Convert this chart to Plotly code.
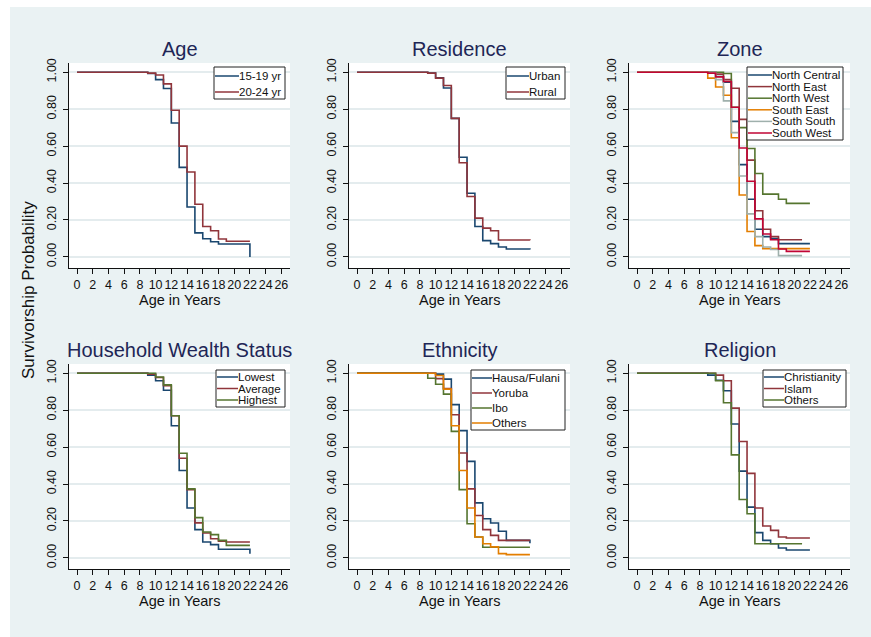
import plotly.graph_objects as go

W, H = 871, 637

# ---------------- data ----------------
AGES = [0, 9, 10, 11, 12, 13, 14, 15, 16, 17, 18, 19, 20, 21, 22]
X_TICKS = list(range(0, 27, 2))
Y_TICKS = [0.0, 0.2, 0.4, 0.6, 0.8, 1.0]

panel_titles = ["Age", "Residence", "Zone", "Household Wealth Status", "Ethnicity", "Religion"]
x_title = "Age in Years"
y_title = "Survivorship Probability"

# Age
age_15_19 = [1.0, 0.993, 0.96, 0.912, 0.725, 0.485, 0.27, 0.13, 0.098, 0.082, 0.07, 0.07, 0.07, 0.07, 0.0]
age_20_24 = [1.0, 0.995, 0.985, 0.937, 0.794, 0.60, 0.46, 0.285, 0.165, 0.142, 0.097, 0.085, 0.085, 0.085, 0.085]
# Residence
res_urban = [1.0, 0.995, 0.97, 0.915, 0.75, 0.54, 0.345, 0.165, 0.088, 0.072, 0.054, 0.043, 0.043, 0.043, 0.04]
res_rural = [1.0, 0.995, 0.968, 0.928, 0.75, 0.51, 0.327, 0.21, 0.156, 0.142, 0.092, 0.092, 0.092, 0.092, 0.09]
# Zone
zone_north_central = [1.0, 1.0, 0.977, 0.946, 0.734, 0.50, 0.312, 0.15, 0.11, 0.099, 0.072, 0.072, 0.072, 0.072, 0.072]
zone_north_east = [1.0, 1.0, 0.99, 0.96, 0.913, 0.745, 0.524, 0.25, 0.15, 0.11, 0.093, 0.093, 0.093, 0.093, None]
zone_north_west = [1.0, 1.0, 1.0, 0.993, 0.81, 0.70, 0.587, 0.452, 0.34, 0.34, 0.312, 0.29, 0.29, 0.29, 0.29]
zone_south_east = [1.0, 0.968, 0.92, 0.875, 0.645, 0.335, 0.138, 0.061, 0.045, 0.045, 0.045, 0.045, 0.045, 0.045, 0.045]
zone_south_south = [1.0, 1.0, 0.96, 0.845, 0.673, 0.438, 0.233, 0.11, 0.054, 0.04, 0.007, 0.007, 0.007, 0.007, None]
zone_south_west = [1.0, 0.995, 0.975, 0.95, 0.81, 0.59, 0.41, 0.206, 0.124, 0.093, 0.043, 0.03, 0.03, 0.03, 0.03]
# Household wealth
hh_lowest = [1.0, 0.99, 0.959, 0.908, 0.716, 0.473, 0.27, 0.153, 0.086, 0.072, 0.047, 0.047, 0.047, 0.047, 0.023]
hh_average = [1.0, 0.995, 0.977, 0.932, 0.77, 0.54, 0.37, 0.19, 0.135, 0.104, 0.09, 0.086, 0.086, 0.086, 0.086]
hh_highest = [1.0, 1.0, 0.98, 0.937, 0.77, 0.567, 0.374, 0.218, 0.14, 0.126, 0.095, 0.068, 0.068, 0.068, 0.068]
# Ethnicity
eth_hausa = [1.0, 1.0, 0.995, 0.968, 0.83, 0.689, 0.523, 0.298, 0.212, 0.189, 0.144, 0.095, 0.095, 0.095, 0.08]
eth_yoruba = [1.0, 1.0, 0.971, 0.917, 0.775, 0.568, 0.374, 0.23, 0.153, 0.122, 0.095, 0.095, 0.095, 0.095, 0.095]
eth_ibo = [1.0, 0.973, 0.94, 0.887, 0.685, 0.37, 0.185, 0.113, 0.058, 0.058, 0.058, 0.058, 0.058, 0.058, 0.058]
eth_others = [1.0, 1.0, 0.988, 0.914, 0.716, 0.473, 0.27, 0.113, 0.077, 0.06, 0.023, 0.018, 0.018, 0.018, 0.018]
# Religion
rel_christianity = [1.0, 0.99, 0.962, 0.905, 0.725, 0.47, 0.275, 0.137, 0.095, 0.077, 0.054, 0.043, 0.043, 0.043, 0.043]
rel_islam = [1.0, 1.0, 0.99, 0.959, 0.811, 0.63, 0.458, 0.27, 0.173, 0.149, 0.113, 0.108, 0.108, 0.108, 0.108]
rel_others = [1.0, 1.0, 0.959, 0.84, 0.558, 0.316, 0.239, 0.077, 0.077, 0.077, 0.077, 0.077, 0.077, 0.077, None]

age_labels = ["15-19 yr", "20-24 yr"]
res_labels = ["Urban", "Rural"]
zone_labels = ["North Central", "North East", "North West", "South East", "South South", "South West"]
hh_labels = ["Lowest", "Average", "Highest"]
eth_labels = ["Hausa/Fulani", "Yoruba", "Ibo", "Others"]
rel_labels = ["Christianity", "Islam", "Others"]

# ---------------- style ----------------
NAVY, MAROON, GREEN, ORANGE, TEAL, CRAN = "#1a476f", "#90353b", "#55752f", "#e37e00", "#9fb0ac", "#c10534"
BG = "#EAF2F3"
FONT = "Liberation Sans, Arial, sans-serif"

panels = [
    (age_labels, [age_15_19, age_20_24], [NAVY, MAROON]),
    (res_labels, [res_urban, res_rural], [NAVY, MAROON]),
    (zone_labels, [zone_north_central, zone_north_east, zone_north_west,
                   zone_south_east, zone_south_south, zone_south_west],
     [NAVY, MAROON, GREEN, ORANGE, TEAL, CRAN]),
    (hh_labels, [hh_lowest, hh_average, hh_highest], [NAVY, MAROON, GREEN]),
    (eth_labels, [eth_hausa, eth_yoruba, eth_ibo, eth_others], [NAVY, MAROON, GREEN, ORANGE]),
    (rel_labels, [rel_christianity, rel_islam, rel_others], [NAVY, MAROON, GREEN]),
]

# layout in pixels
COL_LEFT = [69, 349, 629]
ROW_TOP = [63, 364]
PW, PH = 221, 205
# legend boxes: x0, y0, x1, y1, first row y, row step, text x, font size
LEG = [
    (214, 67, 285, 99, 76, 16, 239, 11.5),
    (506, 67, 565, 99, 76, 16, 529, 11.5),
    (747, 67, 843, 140, 75, 11.6, 772, 11.5),
    (216, 370, 285, 407, 377, 11.5, 238, 11.5),
    (471, 370, 565, 430, 378, 15, 492, 11.5),
    (763, 370, 846, 407, 377, 11.5, 784, 11.5),
]

def px(x):
    return x / W

def py(y):
    return 1 - y / H

fig = go.Figure()
shapes = []
annotations = []
layout_axes = {}

for k, (labels, series, colors) in enumerate(panels):
    r, c = divmod(k, 3)
    sfx = "" if k == 0 else str(k + 1)
    x0, y0 = COL_LEFT[c], ROW_TOP[r]
    for lab, vals, col in zip(labels, series, colors):
        fig.add_trace(go.Scatter(
            x=AGES, y=vals, mode="lines", name=lab, showlegend=False,
            line=dict(color=col, width=1.6, shape="hv"),
            xaxis="x" + sfx, yaxis="y" + sfx, connectgaps=False,
        ))
    layout_axes["xaxis" + sfx] = dict(
        domain=[px(x0), px(x0 + PW)], anchor="y" + sfx,
        range=[-1.02, 27.1], tickvals=X_TICKS, ticktext=[str(t) for t in X_TICKS],
        tickangle=0, ticklabelstandoff=0,
        ticks="outside", ticklen=5, tickcolor="#111", tickwidth=1,
        showline=True, linecolor="#111", linewidth=1, showgrid=False, zeroline=False,
        tickfont=dict(size=12.5, color="#111", family=FONT),
        fixedrange=True, automargin=False,
    )
    layout_axes["yaxis" + sfx] = dict(
        domain=[py(y0 + PH), py(y0)], anchor="x" + sfx,
        range=[-0.06, 1.05], tickvals=Y_TICKS, tickformat=".2f", tickangle=-90,
        ticklabelstandoff=2,
        ticks="outside", ticklen=5, tickcolor="#111", tickwidth=1,
        showline=True, linecolor="#111", linewidth=1,
        showgrid=True, gridcolor="#E4ECEE", gridwidth=1.5, zeroline=False,
        tickfont=dict(size=12.5, color="#111", family=FONT),
        fixedrange=True, automargin=False,
    )
    # panel title
    annotations.append(dict(
        text=panel_titles[k], x=px(x0 + PW / 2), y=py(y0 - 14), xref="paper", yref="paper",
        xanchor="center", yanchor="middle", showarrow=False,
        font=dict(size=20, color="#1e2656", family=FONT),
    ))
    # x-axis title
    annotations.append(dict(
        text=x_title, x=px(x0 + PW / 2), y=py(y0 + PH + 32), xref="paper", yref="paper",
        xanchor="center", yanchor="middle", showarrow=False,
        font=dict(size=14.5, color="#111", family=FONT),
    ))
    # legend box
    bx0, by0, bx1, by1, ry, rstep, tx, fs = LEG[k]
    shapes.append(dict(type="rect", xref="paper", yref="paper",
                       x0=px(bx0), x1=px(bx1), y0=py(by1), y1=py(by0),
                       fillcolor="white", line=dict(color="#222", width=1), layer="above"))
    for i, (lab, col) in enumerate(zip(labels, colors)):
        yy = ry + i * rstep
        shapes.append(dict(type="line", xref="paper", yref="paper",
                           x0=px(bx0 + 1), x1=px(tx), y0=py(yy), y1=py(yy),
                           line=dict(color=col, width=1.5), layer="above"))
        annotations.append(dict(
            text=lab, x=px(tx), y=py(yy), xref="paper", yref="paper",
            xanchor="left", yanchor="middle", showarrow=False, xshift=-2,
            font=dict(size=fs, color="#111", family=FONT),
        ))

# shared y title
annotations.append(dict(
    text=y_title, x=px(28), y=py(290), xref="paper", yref="paper",
    xanchor="center", yanchor="middle", showarrow=False, textangle=-90,
    font=dict(size=17, color="#111", family=FONT),
))

# white outer strips (image border)
shapes.append(dict(type="rect", xref="paper", yref="paper", x0=0, x1=px(10), y0=0, y1=1,
                   fillcolor="white", line=dict(width=0), layer="below"))
shapes.append(dict(type="rect", xref="paper", yref="paper", x0=0, x1=1, y0=py(7), y1=1,
                   fillcolor="white", line=dict(width=0), layer="below"))

fig.update_layout(
    width=W, height=H, margin=dict(l=0, r=0, t=0, b=0),
    paper_bgcolor=BG, plot_bgcolor="white",
    font=dict(family=FONT, color="#111"),
    showlegend=False, shapes=shapes, annotations=annotations,
    **layout_axes,
)

fig.write_html("out.html", config={"displayModeBar": False})
